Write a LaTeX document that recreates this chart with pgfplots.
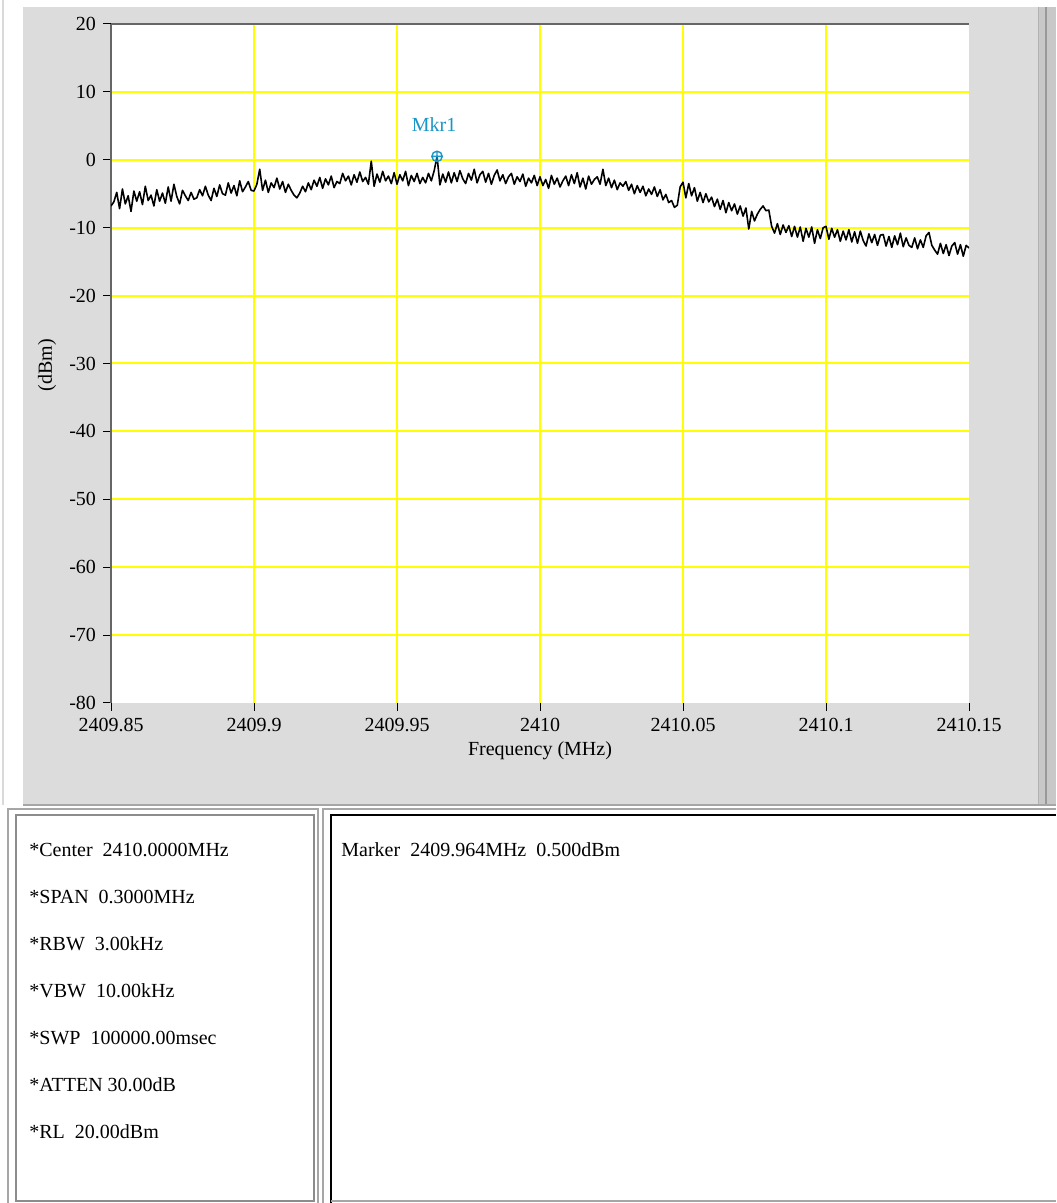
\documentclass[border=0pt]{standalone}
\usepackage{pgfplots}
\pgfplotsset{compat=1.18}
\usepackage{pgfplotstable}
\usepackage{fontspec}
\setmainfont{Liberation Serif}
\definecolor{panel}{RGB}{220,220,220}
\definecolor{strip}{RGB}{200,200,200}
\definecolor{mkr}{RGB}{25,150,200}
\definecolor{gridy}{RGB}{255,255,0}

% trace: one level per point, 301 points from 2409.85 to 2410.15 MHz (step 0.001 MHz)
\pgfplotstableread{
y
-6.8
-6.2
-4.8
-7.2
-4.3
-6.5
-5.3
-7.6
-4.6
-6.1
-4.7
-6.6
-3.9
-6.0
-5.2
-6.8
-4.4
-6.1
-4.9
-6.4
-4.0
-6.1
-3.6
-5.4
-6.5
-4.5
-5.3
-6.0
-4.8
-5.8
-5.6
-4.4
-5.3
-3.9
-5.2
-6.0
-4.2
-5.4
-3.7
-5.0
-5.2
-3.4
-4.9
-3.8
-5.3
-3.1
-4.7
-4.0
-3.2
-4.5
-4.6
-3.6
-1.4
-4.5
-3.0
-4.8
-3.4
-4.1
-2.7
-4.3
-3.2
-4.8
-3.6
-4.5
-5.2
-5.6
-4.9
-3.9
-4.7
-3.4
-4.4
-3.0
-3.9
-2.6
-4.2
-2.8
-3.7
-2.4
-4.1
-3.2
-3.5
-2.0
-3.1
-2.4
-3.7
-2.2
-3.3
-1.8
-3.2
-2.6
-3.6
-0.2
-3.9
-2.1
-3.3
-1.7
-3.1
-2.4
-3.5
-1.9
-3.6
-2.2
-3.1
-1.7
-3.8
-2.3
-3.2
-2.0
-3.5
-2.6
-3.4
-2.0
-3.1
-1.6
0.5
-3.7
-2.1
-3.3
-1.8
-3.4
-1.9
-3.2
-1.6
-2.8
-3.5
-2.0
-3.0
-1.4
-3.4
-2.2
-1.7
-3.3
-2.0
-3.6
-2.3
-1.5
-3.1
-2.2
-3.5
-2.5
-2.0
-3.6
-2.5
-3.2
-2.1
-3.9
-2.7
-3.4
-2.3
-3.8
-2.5
-3.8
-2.9
-4.2
-2.3
-3.6
-2.7
-4.0
-3.1
-2.4
-3.8
-2.2
-3.5
-1.9
-4.0
-2.7
-4.3
-2.4
-3.6
-2.9
-2.5
-3.6
-1.4
-3.8
-2.7
-4.1
-3.0
-4.4
-3.4
-3.9
-3.2
-4.5
-3.6
-5.0
-3.8
-4.8
-3.9
-5.3
-4.3
-5.1
-4.0
-5.4
-4.4
-5.9
-5.1
-6.3
-6.0
-7.0
-6.7
-4.0
-3.3
-5.6
-3.5
-5.3
-4.1
-6.1
-4.8
-6.3
-5.0
-6.2
-5.5
-6.9
-5.8
-7.3
-6.0
-7.8
-6.3
-7.5
-6.5
-8.0
-6.8
-8.3
-7.1
-10.2
-7.6
-9.0
-8.0
-7.3
-6.8
-7.5
-7.4
-9.8
-10.8
-9.4
-11.0
-9.6
-10.7
-9.7
-11.3
-9.8
-11.4
-9.9
-12.0
-10.1
-11.4
-9.9
-12.3
-10.3
-11.6
-10.0
-9.8
-11.7
-10.1
-11.4
-10.3
-12.0
-10.5
-11.8
-10.3
-12.1
-10.6
-12.3
-10.5
-11.9
-12.7
-10.9
-12.2
-11.0
-12.6
-11.1
-11.0
-12.7
-11.3
-12.9
-11.2
-12.5
-10.8
-12.8
-11.5
-12.6
-12.9
-11.5
-13.1
-11.8
-12.9
-11.2
-10.7
-12.6
-13.3
-13.9
-12.3
-13.8
-12.5
-14.1
-12.7
-12.2
-13.9
-12.5
-14.2
-12.6
-13.0
}\trace

\begin{document}
\begin{tikzpicture}
\begin{scope}[x=0.5pt,y=0.5pt]
\path[use as bounding box] (0,0) rectangle (1056,1203);
\fill[white] (0,0) rectangle (1056,1203);
% grey panel
\fill[panel] (23,398) rectangle (1056,1196);
\fill[strip] (1038,398) rectangle (1056,1196);
\draw[gray!80, line width=1.2pt] (1046,398) -- (1046,1196);
\draw[gray!60, line width=0.5pt] (1038,398) -- (1038,1196);
\draw[gray!30, line width=1pt] (3,398) -- (3,1203);
\draw[gray!70, line width=1pt] (23,398) -- (1056,398);
% lower boxes
\fill[white] (8,0) rectangle (318,394);
\draw[gray!70, line width=1pt] (8,0) -- (8,394) -- (318,394) -- (318,0);
\draw[gray!90, line width=1pt] (16,2) -- (16,388) -- (314,388) -- (314,2) -- cycle;
\draw[gray!70, line width=1pt] (323,0) -- (323,394) -- (1056,394);
\draw[black, line width=1.2pt] (331,0) -- (331,388) -- (1056,388);
\draw[gray!70, line width=1pt] (331,2) -- (1056,2);
% settings text
\begin{scope}[every node/.style={anchor=west, inner sep=0pt, font=\fontsize{10}{12}\selectfont}]
\node at (29,353) {*Center\ \ 2410.0000MHz};
\node at (29,306) {*SPAN\ \ 0.3000MHz};
\node at (29,259) {*RBW\ \ 3.00kHz};
\node at (29,212) {*VBW\ \ 10.00kHz};
\node at (29,165) {*SWP\ \ 100000.00msec};
\node at (29,118) {*ATTEN 30.00dB};
\node at (29,71) {*RL\ \ 20.00dBm};
\node at (341,353) {Marker\ \ 2409.964MHz\ \ 0.500dBm};
\end{scope}
% axis labels
\node[rotate=90, font=\fontsize{10}{12}\selectfont] at (47,838) {(dBm)};
\node[font=\fontsize{10}{12}\selectfont] at (540,452) {Frequency (MHz)};
\end{scope}

\begin{axis}[
  name=main,
  at={(55.5pt,250pt)}, anchor=south west,
  scale only axis, width=429pt, height=339.5pt,
  xmin=0, xmax=300, ymin=-80, ymax=20,
  xtick={0,50,...,300},
  xticklabels={2409.85,2409.9,2409.95,2410,2410.05,2410.1,2410.15},
  ytick={-80,-70,...,20},
  yticklabels={-80,-70,-60,-50,-40,-30,-20,-10,0,10,20},
  minor xtick={50,100,150,200,250},
  minor ytick={-70,-60,-50,-40,-30,-20,-10,0,10},
  xminorgrids, yminorgrids,
  minor tick length=0pt,
  minor grid style={gridy, line width=1pt},
  axis background/.style={fill=white},
  tick align=outside, major tick length=4pt,
  tick style={black, line width=0.5pt},
  axis x line*=bottom, axis y line*=left,
  x axis line style={draw=none, -},
  y axis line style={draw=gray!80!black, -, line width=0.8pt},
  tick label style={font=\fontsize{10}{12}\selectfont},
]
\addplot[black, line width=0.8pt, line join=round] table[x expr=\coordindex, y=y] {\trace};
\addplot[only marks, mark=oplus, mark size=2.6pt, color=mkr, mark options={line width=0.7pt, fill=white}] coordinates {(114,0.5)};
\node[text=mkr, font=\fontsize{10}{12}\selectfont] at (axis cs:113,5.2) {Mkr1};
\end{axis}
\draw[gray!80!black, line width=0.8pt] (main.north west) -- (main.north east);
\end{tikzpicture}
\end{document}
